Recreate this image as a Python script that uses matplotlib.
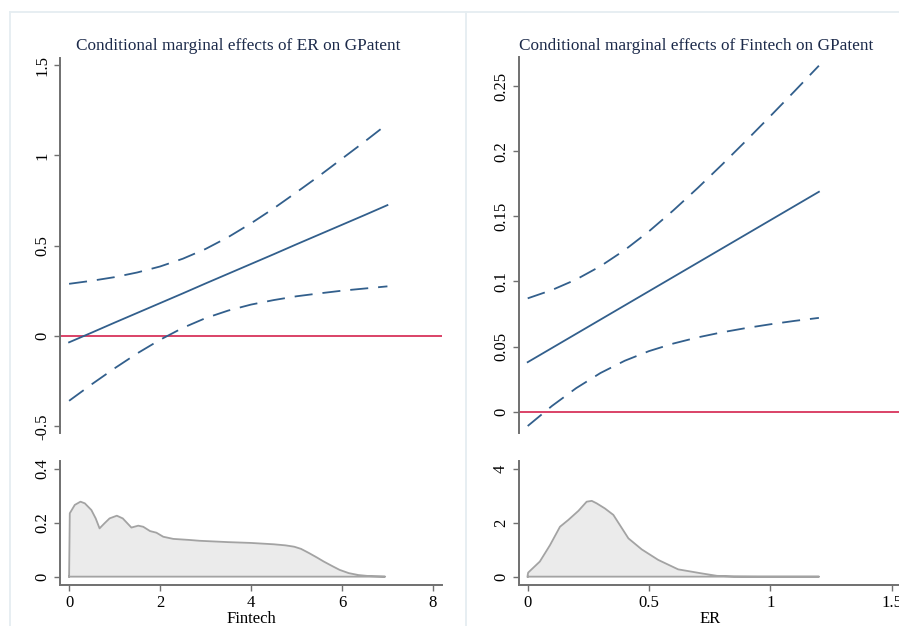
import matplotlib
matplotlib.use("Agg")
import matplotlib.pyplot as plt
from matplotlib.lines import Line2D

plt.rcParams['font.family'] = ['Liberation Serif', 'DejaVu Serif']

# ---------------- data ----------------
# Left: marginal effect of ER on GPatent over Fintech
fintech = [0, 0.5, 1, 1.5, 2, 2.5, 3, 3.5, 4, 4.5, 5, 5.5, 6, 6.5, 7]
me_er = [-0.035, 0.019, 0.074, 0.128, 0.182, 0.236, 0.291, 0.345, 0.399,
         0.453, 0.508, 0.562, 0.616, 0.670, 0.725]
me_er_hi = [0.289, 0.306, 0.326, 0.352, 0.385, 0.428, 0.482, 0.548, 0.624,
            0.707, 0.796, 0.887, 0.982, 1.077, 1.175]
me_er_lo = [-0.359, -0.267, -0.179, -0.096, -0.021, 0.045, 0.099, 0.141, 0.174,
            0.199, 0.220, 0.236, 0.251, 0.263, 0.275]

# Left density of Fintech
dens_fintech_x = [0, 0.015, 0.125, 0.25, 0.345, 0.49, 0.585, 0.67, 0.78, 0.89, 1.05,
                  1.18, 1.37, 1.52, 1.63, 1.78, 1.92, 2.07, 2.29, 2.65, 2.87, 3.5,
                  4.0, 4.5, 4.76, 4.95, 5.1, 5.27, 5.45, 5.6, 5.8, 5.95, 6.15,
                  6.36, 6.6, 6.95]
dens_fintech_y = [0, 0.235, 0.266, 0.278, 0.272, 0.247, 0.216, 0.179, 0.198, 0.216, 0.226,
                  0.216, 0.182, 0.189, 0.185, 0.169, 0.163, 0.148, 0.140, 0.136, 0.133, 0.128,
                  0.125, 0.120, 0.116, 0.111, 0.103, 0.088, 0.071, 0.056, 0.038, 0.025, 0.013,
                  0.006, 0.002, 0.0]

# Right: marginal effect of Fintech on GPatent over ER
er = [0, 0.1, 0.2, 0.3, 0.4, 0.5, 0.6, 0.7, 0.8, 0.9, 1.0, 1.1, 1.2]
me_ft = [0.038, 0.0489, 0.0598, 0.0707, 0.0816, 0.0925, 0.1034, 0.1143, 0.1252,
         0.1361, 0.147, 0.1579, 0.1688]
me_ft_hi = [0.087, 0.0934, 0.1015, 0.1117, 0.1241, 0.1385, 0.1545, 0.1716, 0.1895,
            0.208, 0.2269, 0.2461, 0.2656]
me_ft_lo = [-0.011, 0.0044, 0.0181, 0.0297, 0.0391, 0.0465, 0.0523, 0.057, 0.0609,
            0.0642, 0.0671, 0.0697, 0.072]

# Right density of ER
dens_er_x = [0, 0.002, 0.05, 0.092, 0.133, 0.167, 0.209, 0.243, 0.264, 0.284, 0.318,
             0.353, 0.415, 0.47, 0.538, 0.62, 0.717, 0.78, 0.85, 0.95, 1.2]
dens_er_y = [0.06, 0.15, 0.56, 1.17, 1.85, 2.10, 2.44, 2.78, 2.81, 2.72, 2.53,
             2.29, 1.42, 1.01, 0.62, 0.27, 0.12, 0.03, 0.005, 0.0, 0.0]

left_title = "Conditional marginal effects of ER on GPatent"
right_title = "Conditional marginal effects of Fintech on GPatent"

left_top_yticks = [-0.5, 0, 0.5, 1, 1.5]
left_top_ylabels = ["-0.5", "0", "0.5", "1", "1.5"]
left_bot_yticks = [0, 0.2, 0.4]
left_bot_ylabels = ["0", "0.2", "0.4"]
left_xticks = [0, 2, 4, 6, 8]
left_xlabels = ["0", "2", "4", "6", "8"]

right_top_yticks = [0, 0.05, 0.1, 0.15, 0.2, 0.25]
right_top_ylabels = ["0", "0.05", "0.1", "0.15", "0.2", "0.25"]
right_bot_yticks = [0, 2, 4]
right_bot_ylabels = ["0", "2", "4"]
right_xticks = [0, 0.5, 1, 1.5]
right_xlabels = ["0", "0.5", "1", "1.5"]

# ---------------- style ----------------
W, H = 899, 626
LINE_C = '#325f8c'
RED_C = '#d8345c'
SPINE_C = '#707070'
FILL_C = '#ebebeb'
EDGE_C = '#a3a3a3'
TITLE_C = '#1c2a4a'
FS = 12
FS_TITLE = 12.4

fig = plt.figure(figsize=(W / 100, H / 100), dpi=100)
fig.patch.set_facecolor('white')


def ax_px(x0, y0, x1, y1):
    return fig.add_axes([x0 / W, 1 - y1 / H, (x1 - x0) / W, (y1 - y0) / H])


def style(ax, bottom=True):
    for s in ['top', 'right']:
        ax.spines[s].set_visible(False)
    ax.spines['left'].set_color(SPINE_C)
    ax.spines['left'].set_linewidth(1.4)
    ax.spines['bottom'].set_color(SPINE_C)
    ax.spines['bottom'].set_linewidth(1.4)
    if not bottom:
        ax.spines['bottom'].set_visible(False)
        ax.tick_params(axis='x', bottom=False, labelbottom=False)
    ax.tick_params(axis='both', colors=SPINE_C, labelcolor='black',
                   length=4.5, width=1.0, labelsize=FS, pad=2.5)
    ax.set_facecolor('white')
    ax.patch.set_alpha(0)


def yticks(ax, ticks, labels):
    ax.set_yticks(ticks)
    ax.set_yticklabels(labels, rotation=90, va='center')


DASH = (0, (10, 5.5))

# ---- left top
ax1 = ax_px(60, 58, 442, 433.3)
ax1.axhline(0, color=RED_C, lw=1.3, zorder=1)
ax1.plot(fintech, me_er, color=LINE_C, lw=1.3)
ax1.plot(fintech, me_er_hi, color=LINE_C, lw=1.3, linestyle=DASH)
ax1.plot(fintech, me_er_lo, color=LINE_C, lw=1.3, linestyle=DASH)
ax1.set_xlim(-0.2, 8.2)
ax1.set_ylim(-0.539, 1.54)
yticks(ax1, left_top_yticks, left_top_ylabels)
style(ax1, bottom=False)

# ---- left bottom
ax2 = ax_px(60, 460.7, 442, 585)
ax2.fill_between(dens_fintech_x, dens_fintech_y, 0, color=FILL_C, lw=0)
ax2.plot(dens_fintech_x + [dens_fintech_x[-1], 0], dens_fintech_y + [0, 0],
         color=EDGE_C, lw=1.3)
ax2.set_xlim(-0.2, 8.2)
ax2.set_ylim(-0.031, 0.43)
yticks(ax2, left_bot_yticks, left_bot_ylabels)
ax2.set_xticks(left_xticks)
ax2.set_xticklabels(left_xlabels)
ax2.set_xlabel("Fintech", fontsize=FS, labelpad=0)
style(ax2)

# ---- right top
ax3 = ax_px(518.6, 56.7, 900.8, 433.3)
ax3.axhline(0, color=RED_C, lw=1.3, zorder=1)
ax3.plot(er, me_ft, color=LINE_C, lw=1.3)
ax3.plot(er, me_ft_hi, color=LINE_C, lw=1.3, linestyle=DASH)
ax3.plot(er, me_ft_lo, color=LINE_C, lw=1.3, linestyle=DASH)
ax3.set_xlim(-0.0375, 1.5375)
ax3.set_ylim(-0.0166, 0.2725)
yticks(ax3, right_top_yticks, right_top_ylabels)
style(ax3, bottom=False)

# ---- right bottom
ax4 = ax_px(518.6, 460.7, 900.8, 585)
ax4.fill_between(dens_er_x, dens_er_y, 0, color=FILL_C, lw=0)
ax4.plot([0] + dens_er_x + [0], [0] + dens_er_y + [0], color=EDGE_C, lw=1.3)
ax4.set_xlim(-0.0375, 1.5375)
ax4.set_ylim(-0.31, 4.3)
yticks(ax4, right_bot_yticks, right_bot_ylabels)
ax4.set_xticks(right_xticks)
ax4.set_xticklabels(right_xlabels)
ax4.set_xlabel("ER", fontsize=FS, labelpad=0)
style(ax4)

# titles
fig.text(238 / W, 1 - 46.5 / H, left_title, ha='center', va='center',
         fontsize=FS_TITLE, color=TITLE_C)
fig.text(695.7 / W, 1 - 46.5 / H, right_title, ha='center', va='center',
         fontsize=FS_TITLE, color=TITLE_C)

# faint frame lines of the combined graph
FR = '#e5edf1'
fig.add_artist(Line2D([10 / W, 1], [1 - 12 / H, 1 - 12 / H], color=FR, lw=1.3,
                      transform=fig.transFigure))
fig.add_artist(Line2D([10 / W, 10 / W], [0, 1 - 12 / H], color=FR, lw=1.3,
                      transform=fig.transFigure))
fig.add_artist(Line2D([466 / W, 466 / W], [0, 1 - 12 / H], color=FR, lw=1.3,
                      transform=fig.transFigure))

fig.savefig("out.png", dpi=100)
